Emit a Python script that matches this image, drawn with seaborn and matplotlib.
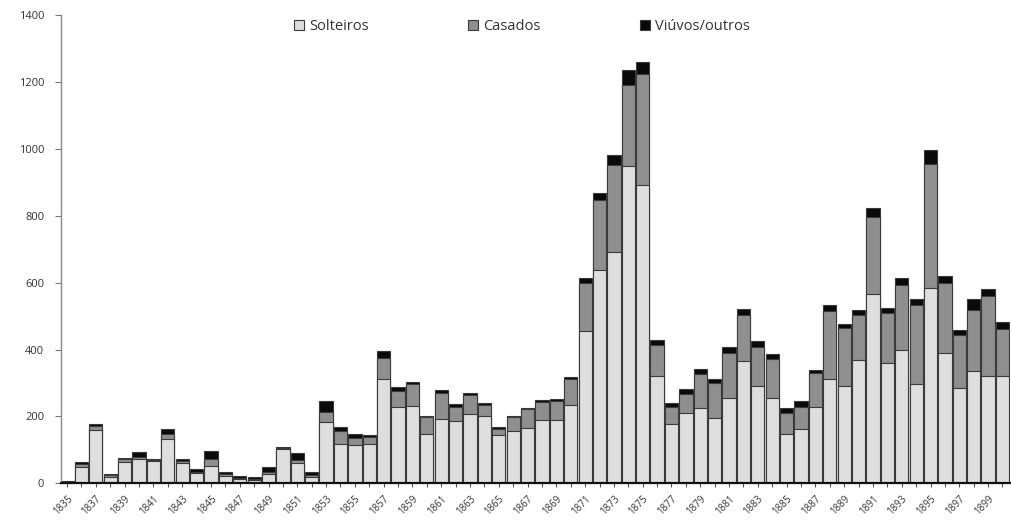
import numpy as np
import pandas as pd
import matplotlib
matplotlib.use("Agg")
import matplotlib.pyplot as plt
import seaborn as sns
from matplotlib.patches import Patch

years = list(range(1835, 1901))
solteiros = [3, 50, 160, 20, 65, 72, 68, 132, 60, 30, 52, 22, 12, 10, 28, 102, 62, 20, 182, 117, 115,
             118, 311, 228, 232, 147, 192, 187, 208, 200, 145, 157, 165, 189, 190, 233, 456, 638, 692, 948, 891,
             320, 177, 211, 226, 196, 256, 365, 291, 256, 147, 162, 228, 311, 291, 370, 567, 360, 400, 296, 583,
             390, 284, 337, 320, 320]
casados = [1, 9, 12, 5, 7, 6, 3, 15, 8, 5, 20, 5, 4, 3, 6, 5, 8, 5, 30, 40, 22,
           22, 64, 48, 66, 50, 78, 42, 56, 35, 17, 40, 56, 54, 57, 80, 142, 209, 259, 242, 334,
           95, 52, 55, 101, 105, 134, 139, 116, 117, 64, 66, 102, 205, 173, 134, 230, 149, 193, 236, 371,
           208, 158, 182, 240, 141]
viuvos = [3, 4, 5, 3, 5, 17, 2, 14, 5, 8, 24, 8, 5, 6, 14, 3, 20, 8, 33, 10, 12,
          6, 22, 12, 5, 5, 10, 7, 5, 6, 5, 4, 5, 5, 6, 5, 15, 22, 30, 45, 35,
          15, 12, 15, 15, 12, 17, 17, 18, 15, 15, 18, 10, 18, 13, 13, 26, 15, 20, 19, 41,
          22, 15, 32, 21, 20]
series_names = ["Solteiros", "Casados", "Viúvos/outros"]
colors = ["#dedede", "#8f8f8f", "#0a0a0a"]
y_ticks = [0, 200, 400, 600, 800, 1000, 1200, 1400]

df = pd.DataFrame({"ano": [str(y) for y in years],
                   "sol": solteiros, "cas": casados, "viu": viuvos})
df["c1"] = df["sol"]
df["c2"] = df["sol"] + df["cas"]
df["c3"] = df["sol"] + df["cas"] + df["viu"]
order = df["ano"].tolist()

sns.set_style("white")
plt.rcParams["font.family"] = ["Open Sans", "DejaVu Sans"]

fig = plt.figure(figsize=(10.12, 5.3), dpi=100)
ax = fig.add_axes([0.0603, 0.088, 0.9377, 0.8837])

for col, c in zip(["c3", "c2", "c1"], [colors[2], colors[1], colors[0]]):
    sns.barplot(data=df, x="ano", y=col, order=order, color=c, width=0.92,
                edgecolor="#3a3a3a", linewidth=0.8, saturation=1, ax=ax, zorder=2)

ax.set_ylim(0, 1400)
ax.set_xlim(-0.42, 65.52)
ax.set_yticks(y_ticks)
ax.set_yticklabels([str(v) for v in y_ticks], fontsize=8, color="#333333")
ax.set_xticks(range(0, len(years), 2))
ax.set_xticklabels([str(y) for y in years[::2]], rotation=45, ha="right",
                   rotation_mode="anchor", fontsize=7, color="#333333")
ax.set_xticks(range(len(years)), minor=True)
ax.set_xlabel("")
ax.set_ylabel("")
ax.tick_params(axis="y", which="major", direction="out", length=4, width=0.8,
               color="#777777", left=True, pad=8)
ax.tick_params(axis="x", which="both", direction="out", length=3, width=0.8,
               color="#555555", bottom=True, pad=4)
for s in ["top", "right"]:
    ax.spines[s].set_visible(False)
ax.spines["left"].set_color("#888888")
ax.spines["left"].set_linewidth(1.0)
ax.spines["bottom"].set_color("#111111")
ax.spines["bottom"].set_linewidth(1.6)
ax.spines["bottom"].set_zorder(5)

handles = [Patch(facecolor=c, edgecolor="#3a3a3a", linewidth=0.8) for c in colors]
fig.legend(handles, series_names, loc="upper center", bbox_to_anchor=(0.516, 0.988),
           ncol=3, frameon=False, fontsize=10.5, columnspacing=6.8, handlelength=0.7,
           handleheight=0.7, handletextpad=0.35, labelcolor="#333333")

fig.savefig("out.png", dpi=100)
